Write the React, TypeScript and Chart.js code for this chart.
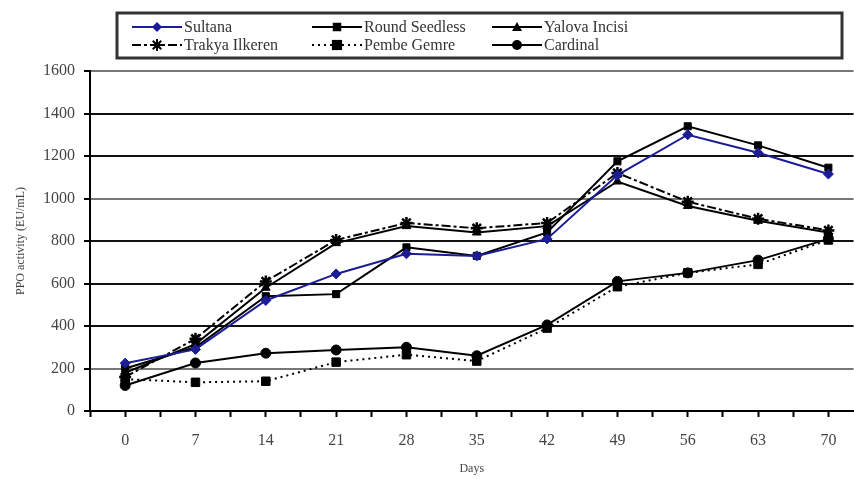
import React, { useEffect, useRef } from "react";
import { Chart, registerables } from "chart.js";

Chart.register(...registerables);

const days = [0, 7, 14, 21, 28, 35, 42, 49, 56, 63, 70];
const yTicks = [0, 200, 400, 600, 800, 1000, 1200, 1400, 1600];

const sultana = [225, 290, 520, 645, 740, 730, 810, 1110, 1300, 1215, 1115];
const roundSeedless = [200, 300, 540, 550, 770, 730, 840, 1175, 1340, 1250, 1145];
const yalovaIncisi = [180, 315, 580, 790, 870, 840, 870, 1080, 965, 895, 840];
const trakyaIlkeren = [160, 340, 610, 805, 885, 860, 885, 1120, 985, 905, 850];
const pembeGemre = [150, 135, 140, 230, 265, 235, 390, 585, 650, 690, 805];
const cardinal = [120, 226, 272, 287, 300, 260, 405, 610, 650, 710, 810];

const seriesNames = ["Sultana", "Round Seedless", "Yalova Incisi", "Trakya Ilkeren", "Pembe Gemre", "Cardinal"];

const FONT = "'Liberation Serif', 'Times New Roman', serif";

type Style = { color: string; dash: number[]; point: string; radius: number };
const styles: Style[] = [
  { color: "#1c1c96", dash: [], point: "rectRot", radius: 5 },
  { color: "#000", dash: [], point: "rect", radius: 5 },
  { color: "#000", dash: [], point: "triangle", radius: 5 },
  { color: "#000", dash: [9, 3, 3, 3], point: "star", radius: 6 },
  { color: "#000", dash: [2, 4], point: "rect", radius: 6 },
  { color: "#000", dash: [], point: "circle", radius: 5 },
];

function drawMarker(ctx: CanvasRenderingContext2D, style: string, x: number, y: number, r: number, color: string) {
  ctx.save();
  ctx.fillStyle = color;
  ctx.strokeStyle = color;
  ctx.lineWidth = 2;
  ctx.setLineDash([]);
  ctx.beginPath();
  if (style === "rect") {
    ctx.rect(x - r * 0.85, y - r * 0.85, r * 1.7, r * 1.7);
    ctx.fill();
  } else if (style === "rectRot") {
    ctx.moveTo(x, y - r);
    ctx.lineTo(x + r, y);
    ctx.lineTo(x, y + r);
    ctx.lineTo(x - r, y);
    ctx.closePath();
    ctx.fill();
  } else if (style === "triangle") {
    ctx.moveTo(x, y - r);
    ctx.lineTo(x + r, y + r * 0.8);
    ctx.lineTo(x - r, y + r * 0.8);
    ctx.closePath();
    ctx.fill();
  } else if (style === "circle") {
    ctx.arc(x, y, r, 0, Math.PI * 2);
    ctx.fill();
  } else if (style === "star") {
    for (let k = 0; k < 4; k++) {
      const a = (k * Math.PI) / 4;
      ctx.moveTo(x - Math.cos(a) * r, y - Math.sin(a) * r);
      ctx.lineTo(x + Math.cos(a) * r, y + Math.sin(a) * r);
    }
    ctx.stroke();
  }
  ctx.restore();
}

const legendPlugin = {
  id: "boxLegend",
  afterDraw(chart: any) {
    const ctx: CanvasRenderingContext2D = chart.ctx;
    ctx.save();
    ctx.fillStyle = "#fff";
    ctx.fillRect(117, 13, 725, 45);
    ctx.strokeStyle = "#333";
    ctx.lineWidth = 3;
    ctx.strokeRect(117, 13, 725, 45);
    const colX = [132, 312, 492];
    const rowY = [27, 45];
    ctx.font = `16px ${FONT}`;
    ctx.textBaseline = "middle";
    ctx.textAlign = "left";
    seriesNames.forEach((name, i) => {
      const st = styles[i];
      const x0 = colX[i % 3];
      const y = rowY[Math.floor(i / 3)];
      ctx.save();
      ctx.strokeStyle = st.color;
      ctx.lineWidth = 2;
      ctx.setLineDash(st.dash);
      ctx.beginPath();
      ctx.moveTo(x0, y);
      ctx.lineTo(x0 + 50, y);
      ctx.stroke();
      ctx.restore();
      drawMarker(ctx, st.point, x0 + 25, y, st.radius, st.color);
      ctx.fillStyle = "#333";
      ctx.fillText(name, x0 + 52, y + 1);
    });
    ctx.restore();
  },
};

const seriesValues = [sultana, roundSeedless, yalovaIncisi, trakyaIlkeren, pembeGemre, cardinal];

export default function App() {
  const ref = useRef<HTMLCanvasElement | null>(null);
  useEffect(() => {
    if (!ref.current) return;
    const datasets = seriesNames.map((name, i) => ({
      label: name,
      data: days.map((d, j) => ({ x: d, y: seriesValues[i][j] })),
      borderColor: styles[i].color,
      backgroundColor: styles[i].color,
      borderWidth: 2,
      borderDash: styles[i].dash,
      pointStyle: styles[i].point as any,
      pointRadius: styles[i].radius,
      pointBorderWidth: styles[i].point === "star" ? 2.5 : 1,
      pointBorderColor: styles[i].color,
      pointBackgroundColor: styles[i].color,
      tension: 0,
      fill: false,
    }));
    const chart = new Chart(ref.current, {
      type: "line",
      data: { datasets },
      plugins: [legendPlugin],
      options: {
        animation: false,
        responsive: false,
        devicePixelRatio: 1,
        layout: { padding: { top: 71, left: 0, right: 0, bottom: 0 } },
        plugins: { legend: { display: false }, tooltip: { enabled: false } },
        scales: {
          x: {
            type: "linear",
            min: -3.5,
            max: 72.5,
            afterFit: (s: any) => {
              s.height = 68;
            },
            ticks: {
              stepSize: 3.5,
              includeBounds: false,
              autoSkip: false,
              maxRotation: 0,
              padding: 14,
              color: "#444",
              font: { family: FONT, size: 16 },
              callback: (v: any) => (Number(v) >= 0 && Number(v) % 7 === 0 ? String(v) : ""),
            },
            grid: { drawOnChartArea: false, drawTicks: true, tickLength: 6, tickColor: "#000", tickWidth: 2 },
            border: { color: "#000", width: 2 },
            title: { display: true, text: "Days", color: "#444", font: { family: FONT, size: 12 }, padding: { top: 0, bottom: 3 } },
          },
          y: {
            min: 0,
            max: 1600,
            afterFit: (s: any) => {
              s.width = 90;
            },
            afterBuildTicks: (s: any) => {
              s.ticks = yTicks.map((v) => ({ value: v }));
            },
            ticks: {
              padding: 9,
              color: "#444",
              font: { family: FONT, size: 16 },
              callback: (v: any) => String(v),
            },
            grid: {
              color: (c: any) => {
                const v = c.tick ? c.tick.value : 0;
                return v === 1600 || v === 1000 || v === 200 ? "#777" : "#111";
              },
              lineWidth: 2,
              tickLength: 6,
              tickColor: "#000",
              tickWidth: 2,
            },
            border: { color: "#000", width: 2 },
            title: { display: true, text: "PPO activity (EU/mL)", color: "#444", font: { family: FONT, size: 12 }, padding: { top: 14, bottom: 0 } },
          },
        },
      } as any,
    });
    return () => chart.destroy();
  }, []);
  return (
    <div style={{ position: "fixed", left: 0, top: 0, width: 854, height: 479, overflow: "hidden", background: "#fff" }}>
      <canvas ref={ref} width={862} height={479} style={{ width: 862, height: 479, display: "block" }} />
    </div>
  );
}
